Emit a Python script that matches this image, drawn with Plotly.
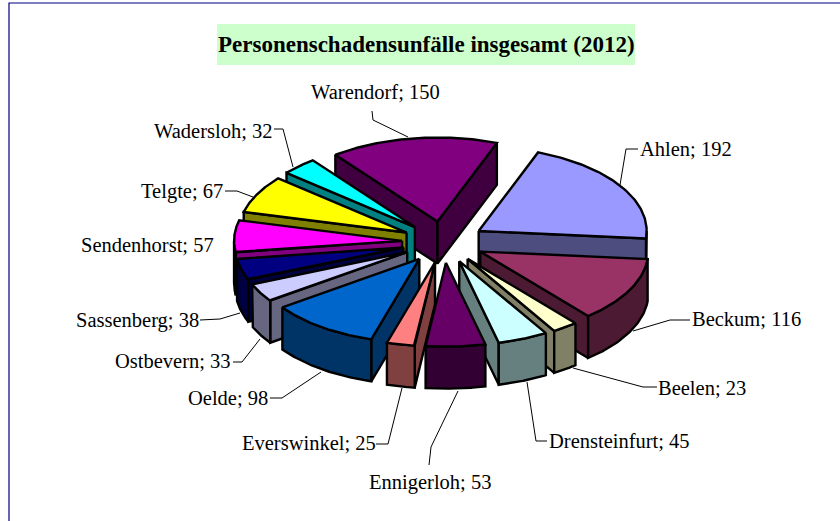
import numpy as np
import plotly.graph_objects as go

# --- data ---
names = ["Ahlen", "Beckum", "Beelen", "Drensteinfurt", "Ennigerloh", "Everswinkel", "Oelde",
         "Ostbevern", "Sassenberg", "Sendenhorst", "Telgte", "Wadersloh", "Warendorf"]
values = [192, 116, 23, 45, 53, 25, 98, 33, 38, 57, 67, 32, 150]
top_colors = ["#9999FF", "#993366", "#FFFFCC", "#CCFFFF", "#660066", "#FF8080", "#0066CC",
              "#CCCCFF", "#000080", "#FF00FF", "#FFFF00", "#00FFFF", "#800080"]
side_colors = ["#4D4D80", "#4D1A33", "#808066", "#668080", "#330033", "#804040", "#003366",
               "#666680", "#000040", "#800080", "#808000", "#008080", "#400040"]
title = "Personenschadensunfälle insgesamt (2012)"

# --- layout of the projected pie (pixels) ---
W, H = 840, 521
CX, CY = 443.5, 242
RX, RY = 168, 84
EX, EY = 41.5, 20.7
DEPTH = 42
FIRST = 20.7
LW = 2.4

label_pos = {  # centre x, centre y
    "Ahlen": (686, 149), "Beckum": (746, 319), "Beelen": (702, 388), "Drensteinfurt": (619, 441),
    "Ennigerloh": (430, 482), "Everswinkel": (309, 443), "Oelde": (228, 398), "Ostbevern": (173, 361),
    "Sassenberg": (137, 320), "Sendenhorst": (147, 245), "Telgte": (182, 191), "Wadersloh": (213, 131),
    "Warendorf": (375, 92),
}
leaders = {
    "Ahlen": ([638, 626, 620], [149, 149, 185]),
    "Beckum": ([690, 670, 633], [320, 320, 331]),
    "Beelen": ([657, 643, 573], [387, 387, 368]),
    "Drensteinfurt": ([547, 536, 527], [441, 441, 382]),
    "Ennigerloh": ([429, 431, 458], [465, 447, 391]),
    "Everswinkel": ([376, 388, 402], [444, 444, 388]),
    "Oelde": ([270, 282, 321], [398, 398, 372]),
    "Ostbevern": ([233, 242, 260], [362, 362, 339]),
    "Sassenberg": ([200, 220, 240], [320, 319, 313]),
    "Telgte": ([225, 237, 253], [191, 191, 197]),
    "Wadersloh": ([274, 283, 293], [129, 129, 167]),
    "Warendorf": ([372, 373, 408], [111, 120, 137]),
}


def pt(deg, ox, oy, dz=0.0):
    r = np.radians(deg)
    return ox + RX * np.sin(r), oy - RY * np.cos(r) + dz


fig = go.Figure()


def poly(xs, ys, color):
    fig.add_trace(go.Scatter(x=list(xs), y=list(ys), mode="lines", fill="toself", fillcolor=color,
                             line=dict(color="black", width=LW), hoverinfo="skip", showlegend=False))


total = sum(values)
spans = [v / total * 360 for v in values]
starts = FIRST + np.concatenate([[0], np.cumsum(spans)[:-1]])

wedges = []
for i, (a, s) in enumerate(zip(starts, spans)):
    mid = np.radians(a + s / 2)
    ox = CX + EX * np.sin(mid)
    oy = CY - EY * np.cos(mid)
    wedges.append((oy, i, a, a + s, ox))

# painter's order: farthest wedge first
for oy, i, a, b, ox in sorted(wedges):
    side = side_colors[i]
    # radial faces turned to the viewer
    for ang, visible in ((a, np.sin(np.radians(a)) < 0), (b, np.sin(np.radians(b)) > 0)):
        if visible:
            x1, y1 = pt(ang, ox, oy)
            poly([ox, x1, x1, ox, ox], [oy, y1, y1 + DEPTH, oy + DEPTH, oy], side)
    # outer curved face, only where it looks forward
    for base in (0, 360):
        lo, hi = max(a, 90 + base), min(b, 270 + base)
        if hi > lo:
            t = np.linspace(lo, hi, 60)
            xa, ya = pt(t, ox, oy)
            poly(np.r_[xa, xa[::-1], xa[0]], np.r_[ya, (ya + DEPTH)[::-1], ya[0]], side)
    # top face
    t = np.linspace(a, b, 80)
    xa, ya = pt(t, ox, oy)
    poly(np.r_[ox, xa, ox], np.r_[oy, ya, oy], top_colors[i])

# leader lines
for n in names:
    if n in leaders:
        fig.add_trace(go.Scatter(x=leaders[n][0], y=leaders[n][1], mode="lines",
                                 line=dict(color="black", width=1), hoverinfo="skip", showlegend=False))

# frame
fig.add_trace(go.Scatter(x=[9, 9, W], y=[H, 3, 3], mode="lines", line=dict(color="#000080", width=1.2),
                         hoverinfo="skip", showlegend=False))

annotations = [dict(x=label_pos[n][0], y=label_pos[n][1], text=f"{n}; {v}", showarrow=False,
                    xanchor="center", yanchor="middle", xref="x", yref="y",
                    font=dict(family="Liberation Serif", size=20.5, color="black"))
               for n, v in zip(names, values)]
annotations.append(dict(x=426.5, y=44.5, text=f"<b>{title}</b>", showarrow=False, xanchor="center", yanchor="middle",
                        xref="x", yref="y", font=dict(family="Liberation Serif", size=23, color="black")))

fig.update_layout(
    width=W, height=H, margin=dict(l=0, r=0, t=0, b=0), paper_bgcolor="white", plot_bgcolor="white",
    xaxis=dict(range=[0, W], visible=False, fixedrange=True),
    yaxis=dict(range=[H, 0], visible=False, fixedrange=True),
    showlegend=False, annotations=annotations,
    shapes=[dict(type="rect", xref="x", yref="y", x0=217, x1=635, y0=24, y1=65,
                 fillcolor="#CCFFCC", line=dict(width=0), layer="below")],
)
fig.write_html("out.html", config=dict(displayModeBar=False),
               post_script="document.body.style.margin='0';document.documentElement.style.overflow='hidden';")
